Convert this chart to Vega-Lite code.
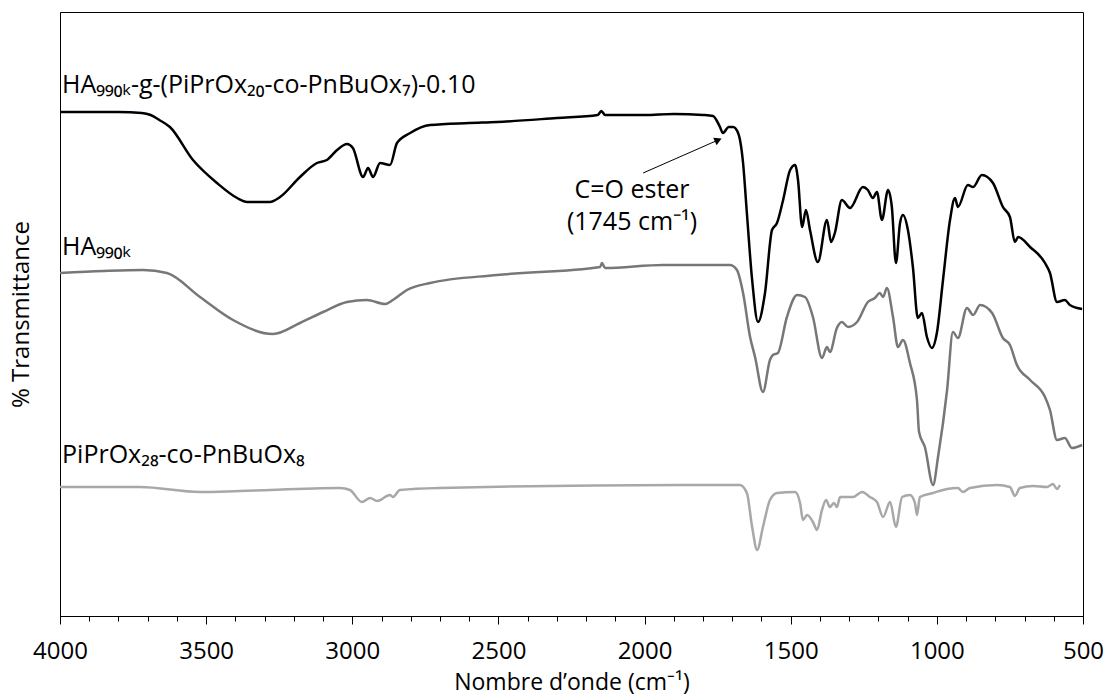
{
  "$schema": "https://vega.github.io/schema/vega-lite/v6.json",
  "width": 1023,
  "height": 604,
  "autosize": {"type": "none"},
  "padding": {"left": 60, "top": 12, "right": 30, "bottom": 84},
  "background": "white",
  "config": {"view": {"stroke": "#000", "strokeWidth": 1}, "font": "Open Sans"},
  "resolve": {"axis": {"x": "independent"}},
  "datasets": {
    "spectra": [
      {"series": "graft", "wn": 4000, "T": 504}, {"series": "graft", "wn": 3900, "T": 504}, {"series": "graft", "wn": 3800, "T": 504}, {"series": "graft", "wn": 3720, "T": 503},
      {"series": "graft", "wn": 3690, "T": 501}, {"series": "graft", "wn": 3660, "T": 496}, {"series": "graft", "wn": 3624, "T": 489}, {"series": "graft", "wn": 3545, "T": 456},
      {"series": "graft", "wn": 3463, "T": 433}, {"series": "graft", "wn": 3394, "T": 418}, {"series": "graft", "wn": 3360, "T": 414}, {"series": "graft", "wn": 3282, "T": 414},
      {"series": "graft", "wn": 3247, "T": 419}, {"series": "graft", "wn": 3179, "T": 439}, {"series": "graft", "wn": 3121, "T": 453}, {"series": "graft", "wn": 3087, "T": 456},
      {"series": "graft", "wn": 3052, "T": 466}, {"series": "graft", "wn": 3018, "T": 472}, {"series": "graft", "wn": 2998, "T": 468}, {"series": "graft", "wn": 2963, "T": 439},
      {"series": "graft", "wn": 2946, "T": 448}, {"series": "graft", "wn": 2929, "T": 439}, {"series": "graft", "wn": 2905, "T": 453}, {"series": "graft", "wn": 2871, "T": 451},
      {"series": "graft", "wn": 2847, "T": 473}, {"series": "graft", "wn": 2802, "T": 483}, {"series": "graft", "wn": 2734, "T": 491}, {"series": "graft", "wn": 2600, "T": 493},
      {"series": "graft", "wn": 2505, "T": 494}, {"series": "graft", "wn": 2300, "T": 498}, {"series": "graft", "wn": 2160, "T": 501}, {"series": "graft", "wn": 2148, "T": 505},
      {"series": "graft", "wn": 2135, "T": 501}, {"series": "graft", "wn": 2000, "T": 501}, {"series": "graft", "wn": 1900, "T": 502}, {"series": "graft", "wn": 1800, "T": 501},
      {"series": "graft", "wn": 1766, "T": 500}, {"series": "graft", "wn": 1742, "T": 489}, {"series": "graft", "wn": 1732, "T": 483}, {"series": "graft", "wn": 1712, "T": 489},
      {"series": "graft", "wn": 1697, "T": 489}, {"series": "graft", "wn": 1680, "T": 483}, {"series": "graft", "wn": 1663, "T": 453}, {"series": "graft", "wn": 1650, "T": 403},
      {"series": "graft", "wn": 1632, "T": 336}, {"series": "graft", "wn": 1612, "T": 294}, {"series": "graft", "wn": 1588, "T": 323}, {"series": "graft", "wn": 1564, "T": 386},
      {"series": "graft", "wn": 1547, "T": 393}, {"series": "graft", "wn": 1526, "T": 416}, {"series": "graft", "wn": 1502, "T": 446}, {"series": "graft", "wn": 1485, "T": 451},
      {"series": "graft", "wn": 1475, "T": 436}, {"series": "graft", "wn": 1461, "T": 389}, {"series": "graft", "wn": 1448, "T": 406}, {"series": "graft", "wn": 1434, "T": 386},
      {"series": "graft", "wn": 1407, "T": 354}, {"series": "graft", "wn": 1376, "T": 396}, {"series": "graft", "wn": 1362, "T": 374}, {"series": "graft", "wn": 1349, "T": 383},
      {"series": "graft", "wn": 1325, "T": 416}, {"series": "graft", "wn": 1297, "T": 408}, {"series": "graft", "wn": 1253, "T": 429}, {"series": "graft", "wn": 1236, "T": 426},
      {"series": "graft", "wn": 1219, "T": 418}, {"series": "graft", "wn": 1205, "T": 424}, {"series": "graft", "wn": 1188, "T": 396}, {"series": "graft", "wn": 1167, "T": 426},
      {"series": "graft", "wn": 1154, "T": 409}, {"series": "graft", "wn": 1140, "T": 353}, {"series": "graft", "wn": 1126, "T": 393}, {"series": "graft", "wn": 1116, "T": 401},
      {"series": "graft", "wn": 1099, "T": 386}, {"series": "graft", "wn": 1082, "T": 349}, {"series": "graft", "wn": 1065, "T": 298}, {"series": "graft", "wn": 1051, "T": 303},
      {"series": "graft", "wn": 1034, "T": 279}, {"series": "graft", "wn": 1017, "T": 268}, {"series": "graft", "wn": 1000, "T": 283}, {"series": "graft", "wn": 979, "T": 336},
      {"series": "graft", "wn": 955, "T": 396}, {"series": "graft", "wn": 938, "T": 418}, {"series": "graft", "wn": 928, "T": 409}, {"series": "graft", "wn": 894, "T": 431},
      {"series": "graft", "wn": 876, "T": 429}, {"series": "graft", "wn": 846, "T": 441}, {"series": "graft", "wn": 808, "T": 433}, {"series": "graft", "wn": 774, "T": 409},
      {"series": "graft", "wn": 750, "T": 399}, {"series": "graft", "wn": 733, "T": 374}, {"series": "graft", "wn": 722, "T": 379}, {"series": "graft", "wn": 681, "T": 369},
      {"series": "graft", "wn": 630, "T": 353}, {"series": "graft", "wn": 613, "T": 343}, {"series": "graft", "wn": 589, "T": 314}, {"series": "graft", "wn": 562, "T": 316},
      {"series": "graft", "wn": 545, "T": 311}, {"series": "graft", "wn": 503, "T": 307},

      {"series": "ha", "wn": 4000, "T": 343}, {"series": "ha", "wn": 3850, "T": 345}, {"series": "ha", "wn": 3716, "T": 346}, {"series": "ha", "wn": 3634, "T": 343},
      {"series": "ha", "wn": 3521, "T": 319}, {"series": "ha", "wn": 3408, "T": 296}, {"series": "ha", "wn": 3271, "T": 282}, {"series": "ha", "wn": 3179, "T": 293},
      {"series": "ha", "wn": 3100, "T": 304}, {"series": "ha", "wn": 3018, "T": 314}, {"series": "ha", "wn": 2950, "T": 316}, {"series": "ha", "wn": 2888, "T": 312},
      {"series": "ha", "wn": 2861, "T": 316}, {"series": "ha", "wn": 2813, "T": 326}, {"series": "ha", "wn": 2734, "T": 333}, {"series": "ha", "wn": 2505, "T": 341},
      {"series": "ha", "wn": 2152, "T": 349}, {"series": "ha", "wn": 2146, "T": 353}, {"series": "ha", "wn": 2135, "T": 348}, {"series": "ha", "wn": 1937, "T": 351},
      {"series": "ha", "wn": 1708, "T": 351}, {"series": "ha", "wn": 1684, "T": 346}, {"series": "ha", "wn": 1663, "T": 323}, {"series": "ha", "wn": 1639, "T": 279},
      {"series": "ha", "wn": 1622, "T": 259}, {"series": "ha", "wn": 1595, "T": 224}, {"series": "ha", "wn": 1571, "T": 256}, {"series": "ha", "wn": 1561, "T": 261},
      {"series": "ha", "wn": 1544, "T": 263}, {"series": "ha", "wn": 1513, "T": 299}, {"series": "ha", "wn": 1478, "T": 321}, {"series": "ha", "wn": 1451, "T": 319},
      {"series": "ha", "wn": 1424, "T": 299}, {"series": "ha", "wn": 1393, "T": 258}, {"series": "ha", "wn": 1376, "T": 269}, {"series": "ha", "wn": 1366, "T": 264},
      {"series": "ha", "wn": 1342, "T": 288}, {"series": "ha", "wn": 1325, "T": 294}, {"series": "ha", "wn": 1304, "T": 289}, {"series": "ha", "wn": 1273, "T": 294},
      {"series": "ha", "wn": 1236, "T": 314}, {"series": "ha", "wn": 1212, "T": 318}, {"series": "ha", "wn": 1195, "T": 323}, {"series": "ha", "wn": 1184, "T": 319},
      {"series": "ha", "wn": 1171, "T": 328}, {"series": "ha", "wn": 1150, "T": 299}, {"series": "ha", "wn": 1133, "T": 269}, {"series": "ha", "wn": 1116, "T": 276},
      {"series": "ha", "wn": 1092, "T": 253}, {"series": "ha", "wn": 1068, "T": 216}, {"series": "ha", "wn": 1061, "T": 184}, {"series": "ha", "wn": 1041, "T": 169},
      {"series": "ha", "wn": 1013, "T": 131}, {"series": "ha", "wn": 996, "T": 159}, {"series": "ha", "wn": 965, "T": 226}, {"series": "ha", "wn": 945, "T": 284},
      {"series": "ha", "wn": 928, "T": 278}, {"series": "ha", "wn": 897, "T": 308}, {"series": "ha", "wn": 876, "T": 301}, {"series": "ha", "wn": 852, "T": 311},
      {"series": "ha", "wn": 811, "T": 303}, {"series": "ha", "wn": 774, "T": 278}, {"series": "ha", "wn": 750, "T": 271}, {"series": "ha", "wn": 726, "T": 251},
      {"series": "ha", "wn": 681, "T": 236}, {"series": "ha", "wn": 630, "T": 219}, {"series": "ha", "wn": 613, "T": 206}, {"series": "ha", "wn": 589, "T": 176},
      {"series": "ha", "wn": 562, "T": 178}, {"series": "ha", "wn": 538, "T": 168}, {"series": "ha", "wn": 503, "T": 171},

      {"series": "pox", "wn": 4000, "T": 129}, {"series": "pox", "wn": 3726, "T": 129}, {"series": "pox", "wn": 3521, "T": 124}, {"series": "pox", "wn": 3384, "T": 125},
      {"series": "pox", "wn": 3042, "T": 128}, {"series": "pox", "wn": 3008, "T": 126}, {"series": "pox", "wn": 2967, "T": 114}, {"series": "pox", "wn": 2939, "T": 118},
      {"series": "pox", "wn": 2915, "T": 115}, {"series": "pox", "wn": 2871, "T": 121}, {"series": "pox", "wn": 2861, "T": 119}, {"series": "pox", "wn": 2837, "T": 126},
      {"series": "pox", "wn": 2700, "T": 128}, {"series": "pox", "wn": 1879, "T": 131}, {"series": "pox", "wn": 1674, "T": 131}, {"series": "pox", "wn": 1650, "T": 123},
      {"series": "pox", "wn": 1632, "T": 89}, {"series": "pox", "wn": 1615, "T": 66}, {"series": "pox", "wn": 1595, "T": 89}, {"series": "pox", "wn": 1571, "T": 116},
      {"series": "pox", "wn": 1547, "T": 123}, {"series": "pox", "wn": 1485, "T": 124}, {"series": "pox", "wn": 1468, "T": 113}, {"series": "pox", "wn": 1458, "T": 96},
      {"series": "pox", "wn": 1444, "T": 101}, {"series": "pox", "wn": 1424, "T": 94}, {"series": "pox", "wn": 1410, "T": 86}, {"series": "pox", "wn": 1393, "T": 106},
      {"series": "pox", "wn": 1379, "T": 116}, {"series": "pox", "wn": 1366, "T": 109}, {"series": "pox", "wn": 1352, "T": 113}, {"series": "pox", "wn": 1342, "T": 109},
      {"series": "pox", "wn": 1331, "T": 119}, {"series": "pox", "wn": 1287, "T": 119}, {"series": "pox", "wn": 1256, "T": 124}, {"series": "pox", "wn": 1229, "T": 119},
      {"series": "pox", "wn": 1205, "T": 114}, {"series": "pox", "wn": 1184, "T": 99}, {"series": "pox", "wn": 1160, "T": 114}, {"series": "pox", "wn": 1140, "T": 89},
      {"series": "pox", "wn": 1119, "T": 119}, {"series": "pox", "wn": 1092, "T": 121}, {"series": "pox", "wn": 1075, "T": 113}, {"series": "pox", "wn": 1068, "T": 101},
      {"series": "pox", "wn": 1058, "T": 119}, {"series": "pox", "wn": 1013, "T": 123}, {"series": "pox", "wn": 965, "T": 127}, {"series": "pox", "wn": 928, "T": 128},
      {"series": "pox", "wn": 911, "T": 124}, {"series": "pox", "wn": 887, "T": 128}, {"series": "pox", "wn": 794, "T": 131}, {"series": "pox", "wn": 750, "T": 129},
      {"series": "pox", "wn": 733, "T": 120}, {"series": "pox", "wn": 716, "T": 128}, {"series": "pox", "wn": 671, "T": 130}, {"series": "pox", "wn": 623, "T": 129},
      {"series": "pox", "wn": 603, "T": 132}, {"series": "pox", "wn": 589, "T": 127}, {"series": "pox", "wn": 579, "T": 131}
    ]
  },
  "layer": [
    {
      "data": {"name": "spectra"},
      "mark": {"type": "line", "strokeWidth": 2.5, "interpolate": "monotone"},
      "encoding": {
        "x": {
          "field": "wn", "type": "quantitative",
          "scale": {"domain": [500, 4000], "reverse": true, "nice": false, "zero": false},
          "axis": {
            "orient": "bottom",
            "title": "Nombre d’onde (cm⁻¹)",
            "values": [500, 1000, 1500, 2000, 2500, 3000, 3500, 4000],
            "format": "d",
            "labelOverlap": false,
            "labelFlush": false,
            "tickSize": 8,
            "tickColor": "#000", "domainColor": "#000", "grid": false,
            "labelFontSize": 24, "labelColor": "#000", "labelPadding": 15, "labelFont": "Open Sans",
            "titleFontSize": 23, "titleFontWeight": "normal", "titleColor": "#000", "titleFont": "Open Sans", "titlePadding": 8
          }
        },
        "y": {
          "field": "T", "type": "quantitative",
          "scale": {"domain": [0, 604], "nice": false},
          "axis": {
            "title": "% Transmittance", "labels": false, "ticks": false, "grid": false,
            "domainColor": "#000", "titleFontSize": 24, "titleFontWeight": "normal",
            "titleColor": "#000", "titleFont": "Open Sans", "titlePadding": 27
          }
        },
        "color": {
          "field": "series", "type": "nominal",
          "scale": {"domain": ["graft", "ha", "pox"], "range": ["#000000", "#777777", "#a8a8a8"]},
          "legend": null
        }
      }
    },
    {
      "data": {"values": [
        {"wn": 3993, "T": 523, "label": "HA₉₉₀ₖ-g-(PiPrOx₂₀-co-PnBuOx₇)-0.10"},
        {"wn": 3993, "T": 361, "label": "HA₉₉₀ₖ"},
        {"wn": 3993, "T": 153, "label": "PiPrOx₂₈-co-PnBuOx₈"}
      ]},
      "mark": {"type": "text", "align": "left", "baseline": "alphabetic", "fontSize": 25, "font": "Open Sans", "color": "#000"},
      "encoding": {
        "x": {"field": "wn", "type": "quantitative", "axis": null},
        "y": {"field": "T", "type": "quantitative"},
        "text": {"field": "label"}
      }
    },
    {
      "data": {"values": [
        {"wn": 2043, "T": 418, "label": "C=O ester"},
        {"wn": 2043, "T": 386, "label": "(1745 cm⁻¹)"}
      ]},
      "mark": {"type": "text", "align": "center", "baseline": "alphabetic", "fontSize": 25, "font": "Open Sans", "color": "#000"},
      "encoding": {
        "x": {"field": "wn", "type": "quantitative", "axis": null},
        "y": {"field": "T", "type": "quantitative"},
        "text": {"field": "label"}
      }
    },
    {
      "data": {"values": [{"wn": 2005, "T": 443, "wn2": 1756, "T2": 475}]},
      "mark": {"type": "rule", "color": "#000", "strokeWidth": 1},
      "encoding": {
        "x": {"field": "wn", "type": "quantitative", "axis": null},
        "y": {"field": "T", "type": "quantitative"},
        "x2": {"field": "wn2"},
        "y2": {"field": "T2"}
      }
    },
    {
      "data": {"values": [{"wn": 1748, "T": 476}]},
      "mark": {"type": "point", "shape": "triangle-right", "filled": true, "size": 70, "angle": 336, "color": "#000", "opacity": 1},
      "encoding": {
        "x": {
          "field": "wn", "type": "quantitative",
          "axis": {
            "orient": "bottom", "title": null, "labels": false, "domain": false, "grid": false,
            "values": [600, 700, 800, 900, 1100, 1200, 1300, 1400, 1600, 1700, 1800, 1900, 2100, 2200, 2300, 2400, 2600, 2700, 2800, 2900, 3100, 3200, 3300, 3400, 3600, 3700, 3800, 3900],
            "tickSize": 5, "tickColor": "#000"
          }
        },
        "y": {"field": "T", "type": "quantitative"}
      }
    }
  ]
}
